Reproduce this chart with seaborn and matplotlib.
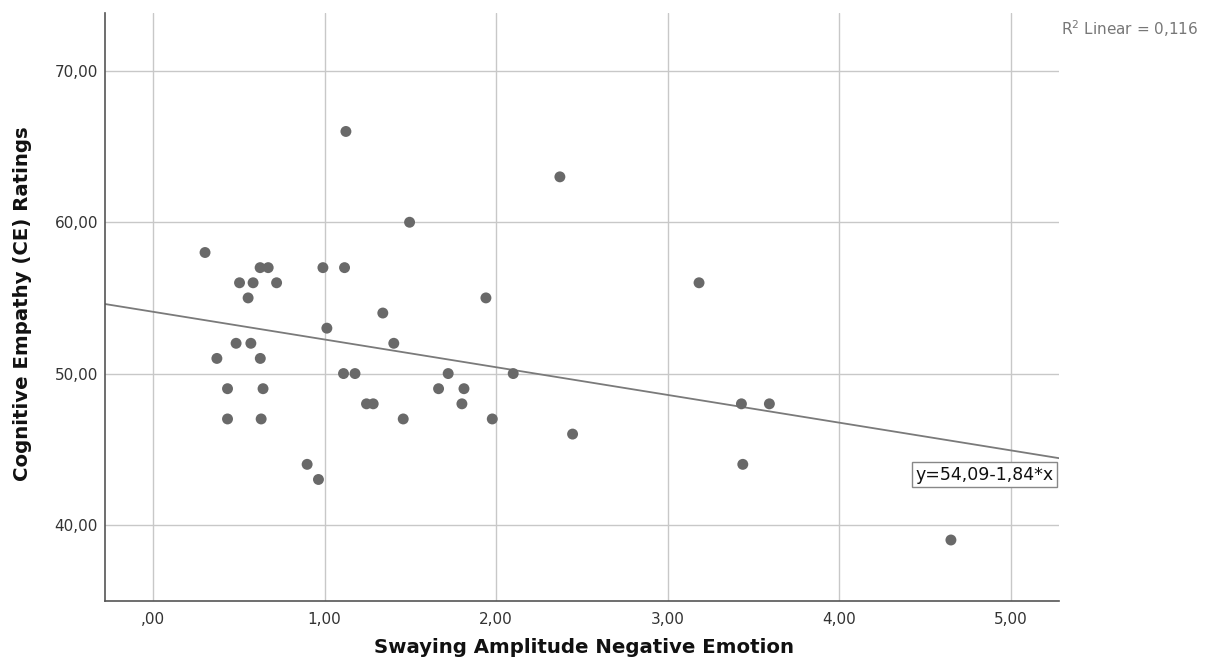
import matplotlib
matplotlib.use('Agg')
import matplotlib.pyplot as plt
import seaborn as sns
import pandas as pd
import numpy as np

# ---------- data ----------
sway_amp = [0.303, 0.372, 0.434, 0.434, 0.484, 0.504, 0.554, 0.570, 0.583, 0.624,
            0.625, 0.630, 0.641, 0.671, 0.720, 0.898, 0.964, 0.990, 1.013, 1.110,
            1.116, 1.124, 1.177, 1.244, 1.283, 1.339, 1.403, 1.458, 1.495, 1.664,
            1.720, 1.800, 1.812, 1.940, 1.977, 2.099, 2.371, 2.445, 3.182, 3.429,
            3.437, 3.592, 4.650]
ce_rating = [58, 51, 49, 47, 52, 56, 55, 52, 56, 57,
             51, 47, 49, 57, 56, 44, 43, 57, 53, 50,
             57, 66, 50, 48, 48, 54, 52, 47, 60, 49,
             50, 48, 49, 55, 47, 50, 63, 46, 56, 48,
             44, 48, 39]
df = pd.DataFrame({'x': sway_amp, 'y': ce_rating})

x_ticks = [0, 1, 2, 3, 4, 5]
x_tick_labels = [',00', '1,00', '2,00', '3,00', '4,00', '5,00']
y_ticks = [40, 50, 60, 70]
y_tick_labels = ['40,00', '50,00', '60,00', '70,00']

intercept, slope = 54.09, -1.84
eq_label = 'y=54,09-1,84*x'
r2_label = 'R$^2$ Linear = 0,116'

# ---------- style ----------
sns.set_style('white')
plt.rcParams['font.family'] = ['DejaVu Sans']

fig = plt.figure(figsize=(12.07, 6.71), dpi=100)
ax = fig.add_axes([0.0870, 0.1039, 0.7904, 0.8772])

x_lim = (-0.28, 5.28)
ax.set_xlim(*x_lim)
ax.set_ylim(34.95, 73.85)

sns.regplot(data=df, x='x', y='y', ax=ax, ci=None, truncate=False,
            scatter_kws={'s': 62, 'color': '#696969', 'edgecolor': 'none', 'alpha': 1, 'zorder': 3},
            line_kws={'color': '#7a7a7a', 'linewidth': 1.3, 'zorder': 2})
ax.set_xlim(*x_lim)

# grid
ax.set_xticks(x_ticks)
ax.set_xticklabels(x_tick_labels, fontsize=11, color='#333333')
ax.set_yticks(y_ticks)
ax.set_yticklabels(y_tick_labels, fontsize=11, color='#333333')
ax.tick_params(axis='x', length=0, pad=8)
ax.tick_params(axis='y', length=0, pad=5)
ax.grid(True, color='#c8c8c8', linewidth=1.0, zorder=0)
ax.set_axisbelow(True)

for side in ['top', 'right']:
    ax.spines[side].set_visible(False)
for side in ['left', 'bottom']:
    ax.spines[side].set_color('#555555')
    ax.spines[side].set_linewidth(1.2)

# labels
ax.set_xlabel('Swaying Amplitude Negative Emotion', fontsize=14.2, fontweight='bold', color='#111111')
ax.set_ylabel('Cognitive Empathy (CE) Ratings', fontsize=14.2, fontweight='bold', color='#111111')
ax.xaxis.set_label_coords(0.502, -0.079)
ax.xaxis.label.set_va('center')
ax.yaxis.set_label_coords(-0.087, 0.505)
ax.yaxis.label.set_va('center')

# equation box hanging from the right end of the fit line
y_end = intercept + slope * x_lim[1]
ax.annotate(eq_label, xy=(x_lim[1], y_end), xycoords='data',
            xytext=(-4, -5), textcoords='offset points',
            ha='right', va='top', fontsize=12.5, color='#111111',
            bbox=dict(boxstyle='square,pad=0.2', facecolor='white', edgecolor='#888888', linewidth=1))

fig.text(0.879, 0.958, r2_label, ha='left', va='center', fontsize=11, color='#777777')

plt.savefig('out.png', dpi=100)
